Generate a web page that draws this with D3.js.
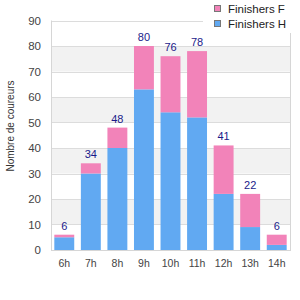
<!DOCTYPE html>
<html><head><meta charset="utf-8">
<script src="https://cdn.jsdelivr.net/npm/d3@7/dist/d3.min.js"></script>
<style>body{margin:0;background:#fff}svg{display:block;font-family:"Liberation Sans",Arial,sans-serif}</style>
</head><body>
<svg id="c" width="300" height="300"></svg>
<script>
const categories = ["6h","7h","8h","9h","10h","11h","12h","13h","14h"];
const hommes = [5,30,40,63,54,52,22,9,2];
const femmes = [1,4,8,17,22,26,19,13,4];
const totals = categories.map((c,i)=>hommes[i]+femmes[i]);
const yTicks = [0,10,20,30,40,50,60,70,80,90];
const seriesNames = ["Finishers F","Finishers H"];
const colF = "#f283b9", colH = "#61a9f2";

const svg = d3.select("#c");
const m = {l:51, r:290, t:20.5, b:250};
const x = d3.scaleBand().domain(categories).range([m.l, m.r]).paddingInner(0.25).paddingOuter(0.125);
const y = d3.scaleLinear().domain([0,90]).range([m.b, m.t]);

// bands
for (let i=0;i<yTicks.length-1;i++){
  if (i%2===1) svg.append("rect").attr("x",m.l).attr("width",m.r-m.l)
    .attr("y",y(yTicks[i+1])).attr("height",y(yTicks[i])-y(yTicks[i+1])).attr("fill","#f2f2f2");
}
// grid
svg.append("g").selectAll("line").data(yTicks).join("line")
  .attr("x1",m.l).attr("x2",m.r).attr("y1",d=>Math.round(y(d))+0.5).attr("y2",d=>Math.round(y(d))+0.5)
  .attr("stroke","#dcdcdc").attr("stroke-width",1);

// bars
const g = svg.append("g");
categories.forEach((c,i)=>{
  g.append("rect").attr("x",x(c)).attr("width",x.bandwidth())
    .attr("y",y(hommes[i])).attr("height",y(0)-y(hommes[i])).attr("fill",colH);
  g.append("rect").attr("x",x(c)).attr("width",x.bandwidth())
    .attr("y",y(totals[i])).attr("height",y(hommes[i])-y(totals[i])).attr("fill",colF);
  g.append("text").attr("x",x(c)+x.bandwidth()/2).attr("y",y(totals[i])-5)
    .attr("text-anchor","middle").attr("font-size",11).attr("fill","#1a1a8a").text(totals[i]);
});

// axes lines
svg.append("line").attr("x1",m.l+0.5).attr("x2",m.l+0.5).attr("y1",m.t).attr("y2",m.b+1).attr("stroke","#d6d6d6");
svg.append("line").attr("x1",m.r+0.5).attr("x2",m.r+0.5).attr("y1",m.t).attr("y2",m.b+1).attr("stroke","#d6d6d6");
svg.append("line").attr("x1",m.l).attr("x2",m.r+1).attr("y1",m.b+0.5).attr("y2",m.b+0.5).attr("stroke","#d6d6d6");

// y ticks
const ya = svg.append("g").attr("transform",`translate(${m.l-10},0)`)
  .call(d3.axisLeft(y).tickValues(yTicks).tickSize(0).tickPadding(0));
ya.select(".domain").remove();
ya.selectAll("text").attr("font-size",11.5).attr("fill","#444").attr("font-family","Liberation Sans");
// x ticks
const xa = svg.append("g").attr("transform",`translate(0,${m.b+10})`)
  .call(d3.axisBottom(x).tickSize(0).tickPadding(0));
xa.select(".domain").remove();
xa.selectAll("text").attr("font-size",10.5).attr("fill","#444").attr("dy","0.71em").attr("font-family","Liberation Sans");

// y label
svg.append("text").attr("transform",`translate(13.5,126) rotate(-90)`).attr("text-anchor","middle")
  .attr("font-size",10).attr("fill","#333").text("Nombre de coureurs");

// legend
svg.append("rect").attr("x",203).attr("y",0).attr("width",97).attr("height",33).attr("fill","#fff");
[colF,colH].forEach((col,i)=>{
  svg.append("rect").attr("x",214.5).attr("y",5.5+i*15).attr("width",6).attr("height",6)
    .attr("fill",col).attr("stroke","#777").attr("stroke-width",1);
  svg.append("text").attr("x",228).attr("y",12.5+i*15).attr("font-size",11.5).attr("fill","#222").text(seriesNames[i]);
});
</script>
</body></html>
